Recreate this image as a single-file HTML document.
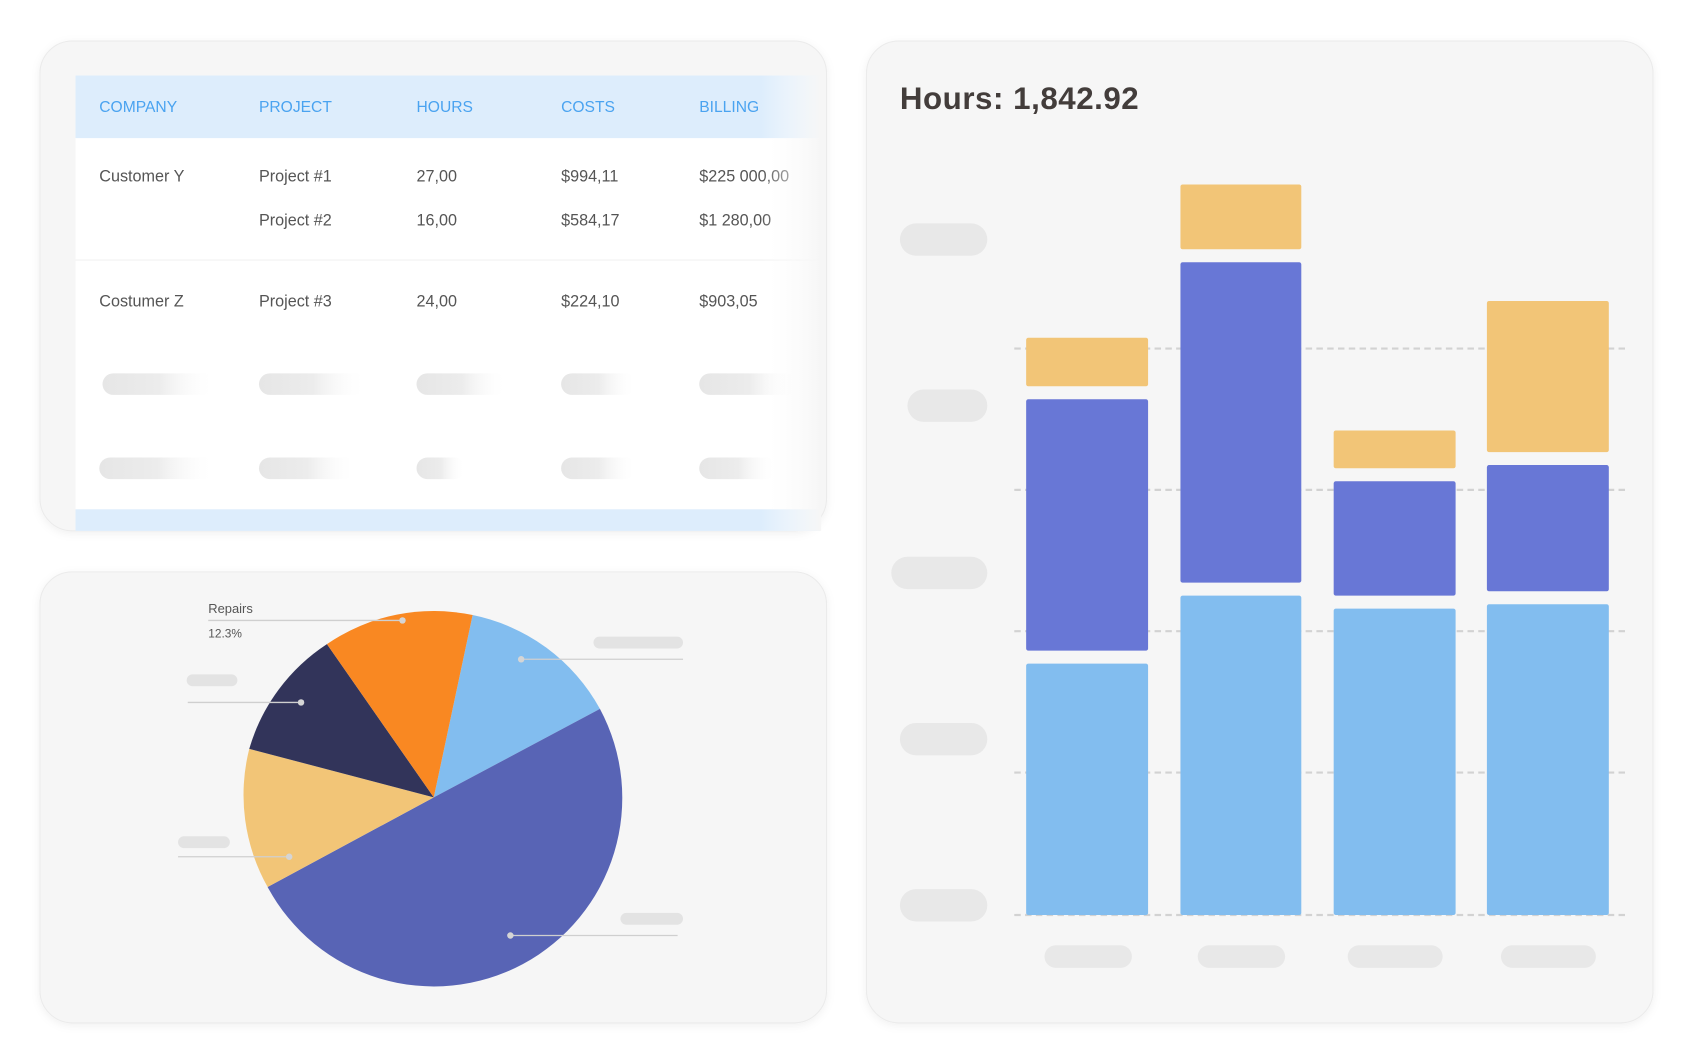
<!DOCTYPE html>
<html><head><meta charset="utf-8"><style>
html,body{margin:0;padding:0;background:#fff;}
svg{display:block;}
text{font-family:"Liberation Sans",sans-serif;}
</style></head><body>
<svg width="1689" height="1061" viewBox="0 0 1565.3 983.3" xmlns="http://www.w3.org/2000/svg">
<defs>
<filter id="sh" x="-10%" y="-10%" width="120%" height="120%"><feDropShadow dx="0" dy="2" stdDeviation="4" flood-color="#000" flood-opacity="0.06"/></filter>
<linearGradient id="fadeR" x1="0" x2="1" y1="0" y2="0">
<stop offset="0" stop-color="#fff" stop-opacity="0"/><stop offset="1" stop-color="#f6f6f6" stop-opacity="1"/></linearGradient>
<linearGradient id="pill" x1="0" x2="1" y1="0" y2="0">
<stop offset="0" stop-color="#e6e6e6"/><stop offset="0.5" stop-color="#ececec"/><stop offset="1" stop-color="#fff" stop-opacity="0"/></linearGradient>
</defs>

<rect x="37" y="38" width="729" height="454" rx="30" fill="#f6f6f6" stroke="#ebebeb" filter="url(#sh)"/>
<rect x="70" y="70" width="690" height="422" fill="#fff"/>
<rect x="70" y="70" width="690" height="58" fill="#ddedfc"/>
<rect x="70" y="472" width="690" height="20" fill="#ddedfc"/>
<line x1="70" y1="241" x2="760" y2="241" stroke="#f2f2f2"/>
<g font-size="14.5" fill="#4aa3f0" font-weight="500">
<text x="92" y="104">COMPANY</text><text x="240" y="104">PROJECT</text><text x="386" y="104">HOURS</text><text x="520" y="104">COSTS</text><text x="648" y="104">BILLING</text>
</g>
<g font-size="15" fill="#555">
<text x="92" y="168">Customer Y</text><text x="240" y="168">Project #1</text><text x="386" y="168">27,00</text><text x="520" y="168">$994,11</text><text x="648" y="168">$225 000,00</text>
<text x="240" y="209">Project #2</text><text x="386" y="209">16,00</text><text x="520" y="209">$584,17</text><text x="648" y="209">$1 280,00</text>
<text x="92" y="284">Costumer Z</text><text x="240" y="284">Project #3</text><text x="386" y="284">24,00</text><text x="520" y="284">$224,10</text><text x="648" y="284">$903,05</text>
</g>
<g fill="url(#pill)">
<rect x="95" y="346" width="105" height="20" rx="10"/><rect x="240" y="346" width="100" height="20" rx="10"/><rect x="386" y="346" width="84" height="20" rx="10"/><rect x="520" y="346" width="70" height="20" rx="10"/><rect x="648" y="346" width="92" height="20" rx="10"/>
<rect x="92" y="424" width="108" height="20" rx="10"/><rect x="240" y="424" width="90" height="20" rx="10"/><rect x="386" y="424" width="45" height="20" rx="10"/><rect x="520" y="424" width="70" height="20" rx="10"/><rect x="648" y="424" width="72" height="20" rx="10"/>
</g>
<rect x="705" y="70" width="56" height="422" fill="url(#fadeR)"/>

<rect x="37" y="530" width="729" height="418" rx="30" fill="#f6f6f6" stroke="#ebebeb" filter="url(#sh)"/>
<g transform="translate(402,739)">
<path d="M0,0 L36,-169 A174,174 0 0 1 154,-82 Z" fill="#82bdef"/>
<path d="M0,0 L154,-82 A174,174 0 0 1 -154,83 Z" fill="#5864b5"/>
<path d="M0,0 L-154,83 A174,174 0 0 1 -171,-45 Z" fill="#f2c577"/>
<path d="M0,0 L-171,-45 A174,174 0 0 1 -99,-142 Z" fill="#32345a"/>
<path d="M0,0 L-99,-142 A174,174 0 0 1 36,-169 Z" fill="#f98822"/>
</g>
<g stroke="#cfcfcf" stroke-width="1.2">
<line x1="193" y1="575" x2="373" y2="575"/><line x1="483" y1="611" x2="633" y2="611"/><line x1="174" y1="651" x2="279" y2="651"/><line x1="165" y1="794" x2="268" y2="794"/><line x1="473" y1="867" x2="628" y2="867"/>
</g>
<g fill="#d5d5d5"><circle cx="373" cy="575" r="3"/><circle cx="483" cy="611" r="3"/><circle cx="279" cy="651" r="3"/><circle cx="268" cy="794" r="3"/><circle cx="473" cy="867" r="3"/></g>
<g fill="#e3e3e3"><rect x="550" y="590" width="83" height="11" rx="5.5"/><rect x="173" y="625" width="47" height="11" rx="5.5"/><rect x="165" y="775" width="48" height="11" rx="5.5"/><rect x="575" y="846" width="58" height="11" rx="5.5"/></g>
<text x="193" y="568" font-size="12" fill="#555">Repairs</text>
<text x="193" y="591" font-size="11" fill="#555">12.3%</text>

<rect x="803" y="38" width="729" height="910" rx="30" fill="#f6f6f6" stroke="#ebebeb" filter="url(#sh)"/>
<text x="834" y="101" font-size="29" font-weight="bold" fill="#433d3b" letter-spacing="0.5">Hours: 1,842.92</text>
<g fill="#e8e8e8">
<rect x="834" y="207" width="81" height="30" rx="15"/><rect x="841" y="361" width="74" height="30" rx="15"/><rect x="826" y="516" width="89" height="30" rx="15"/><rect x="834" y="670" width="81" height="30" rx="15"/><rect x="834" y="824" width="81" height="30" rx="15"/>
<rect x="968" y="876" width="81" height="21" rx="10.5"/><rect x="1110" y="876" width="81" height="21" rx="10.5"/><rect x="1249" y="876" width="88" height="21" rx="10.5"/><rect x="1391" y="876" width="88" height="21" rx="10.5"/>
</g>
<g stroke="#d2d2d2" stroke-width="2" stroke-dasharray="6,4">
<line x1="940" y1="323" x2="1510" y2="323"/><line x1="940" y1="454" x2="1510" y2="454"/><line x1="940" y1="585" x2="1510" y2="585"/><line x1="940" y1="716" x2="1510" y2="716"/><line x1="940" y1="848" x2="1510" y2="848"/>
</g>
<g>
<rect x="951" y="313" width="113" height="45" rx="2" fill="#f2c577"/><rect x="951" y="370" width="113" height="233" rx="2" fill="#6877d6"/><rect x="951" y="615" width="113" height="233" rx="2" fill="#82bdef"/>
<rect x="1094" y="171" width="112" height="60" rx="2" fill="#f2c577"/><rect x="1094" y="243" width="112" height="297" rx="2" fill="#6877d6"/><rect x="1094" y="552" width="112" height="296" rx="2" fill="#82bdef"/>
<rect x="1236" y="399" width="113" height="35" rx="2" fill="#f2c577"/><rect x="1236" y="446" width="113" height="106" rx="2" fill="#6877d6"/><rect x="1236" y="564" width="113" height="284" rx="2" fill="#82bdef"/>
<rect x="1378" y="279" width="113" height="140" rx="2" fill="#f2c577"/><rect x="1378" y="431" width="113" height="117" rx="2" fill="#6877d6"/><rect x="1378" y="560" width="113" height="288" rx="2" fill="#82bdef"/>
</g>
</svg>
</body></html>
